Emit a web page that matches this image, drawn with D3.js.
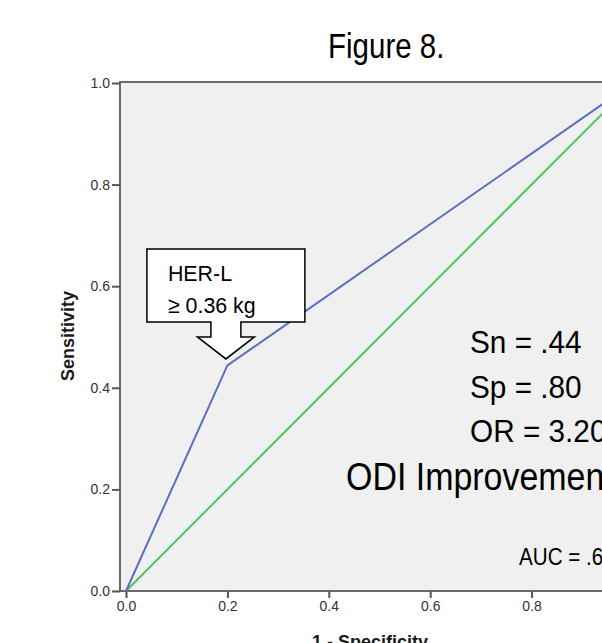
<!DOCTYPE html>
<html>
<head>
<meta charset="utf-8">
<script src="https://cdn.jsdelivr.net/npm/d3@7"></script>
<style>
  html, body { margin: 0; padding: 0; background: #fff; overflow: hidden; }
  svg { display: block; font-family: "Liberation Sans", Arial, sans-serif; }
  .axis path { display: none; }
  .axis line { stroke: #555; stroke-width: 2; }
  .axis text { fill: #333; font-size: 14px; }
</style>
</head>
<body>
<div id="chart"></div>
<script>
const WIDTH = 602
const HEIGHT = 643
const FRAME_COLOR = '#6b6b6b'
const PLOT_BG = '#f0f0f0'
const ROC_COLOR = '#5b6ec2'
const REF_COLOR = '#50c462'

// ROC curve points (1 - specificity, sensitivity)
const FPR = [0, 0.2, 1]
const TPR = [0, 0.444, 1]
// diagonal reference line
const REF_X = [0, 1]
const REF_Y = [0, 1]
const X_TICKS = [0, 0.2, 0.4, 0.6, 0.8, 1.0]
const Y_TICKS = [0, 0.2, 0.4, 0.6, 0.8, 1.0]
const TITLE = 'Figure 8.'
const X_TITLE = '1 - Specificity'
const Y_TITLE = 'Sensitivity'
const CUT_LABEL = ['HER-L', '≥ 0.36 kg']
const CUT_INDEX = 1
const STATS = ['Sn = .44', 'Sp = .80', 'OR = 3.20']
const OUTCOME = 'ODI Improvement'
const AUC_LABEL = 'AUC = .62'

var svg = d3.select('#chart').append('svg')
  .attr('width', WIDTH).attr('height', HEIGHT)

var x = d3.scaleLinear().domain([0, 1]).range([126, 633])
var y = d3.scaleLinear().domain([0, 1]).range([591, 83])
var frameLeft = x(0) - 6
var frameTop = y(1) - 1

// narrow text helper (the source figure uses a condensed face)
function narrowText(g, px, py, size, sx, str) {
  return g.append('text')
    .attr('transform', `translate(${px}, ${py}) scale(${sx}, 1)`)
    .attr('font-size', size)
    .attr('fill', '#000')
    .text(str)
}

// plot background + frame
svg.append('rect')
  .attr('x', frameLeft).attr('y', frameTop)
  .attr('width', WIDTH).attr('height', y(0) - frameTop)
  .attr('fill', PLOT_BG)

svg.append('path')
  .attr('d', `M${WIDTH + 10},${frameTop}H${frameLeft}V${y(0)}H${WIDTH + 10}`)
  .attr('fill', 'none')
  .attr('stroke', FRAME_COLOR)
  .attr('stroke-width', 2)

// axes
var xAxis = d3.axisBottom(x).tickValues(X_TICKS).tickSize(7).tickPadding(3).tickFormat(d3.format('.1f'))
svg.append('g').attr('class', 'axis')
  .attr('transform', `translate(0, ${y(0)})`)
  .call(xAxis)

var yAxis = d3.axisLeft(y).tickValues(Y_TICKS).tickSize(8).tickPadding(2).tickFormat(d3.format('.1f'))
svg.append('g').attr('class', 'axis')
  .attr('transform', `translate(${frameLeft}, 0)`)
  .call(yAxis)

// lines
var line = d3.line().x(d => x(d[0])).y(d => y(d[1]))

svg.append('path')
  .datum(d3.zip(REF_X, REF_Y))
  .attr('d', line)
  .attr('fill', 'none')
  .attr('stroke', REF_COLOR)
  .attr('stroke-width', 2)

svg.append('path')
  .datum(d3.zip(FPR, TPR))
  .attr('d', line)
  .attr('fill', 'none')
  .attr('stroke', ROC_COLOR)
  .attr('stroke-width', 2)

// titles
narrowText(svg, 328, 58, 36, 0.82, TITLE)

svg.append('text')
  .attr('x', 370).attr('y', 648)
  .attr('text-anchor', 'middle')
  .attr('font-size', 18).attr('font-weight', 'bold')
  .attr('fill', '#1a1a1a')
  .text(X_TITLE)

svg.append('text')
  .attr('transform', 'translate(74, 336) rotate(-90)')
  .attr('text-anchor', 'middle')
  .attr('font-size', 18).attr('font-weight', 'bold')
  .attr('fill', '#1a1a1a')
  .text(Y_TITLE)

// callout arrow pointing at the cut-off
var tx = x(FPR[CUT_INDEX]) - 1.5
var ty = y(TPR[CUT_INDEX]) - 6.5
var callout = d3.path()
callout.moveTo(tx - 79, ty - 110)
callout.lineTo(tx + 79, ty - 110)
callout.lineTo(tx + 79, ty - 37)
callout.lineTo(tx + 15, ty - 37)
callout.lineTo(tx + 15, ty - 22)
callout.lineTo(tx + 28.5, ty - 22)
callout.lineTo(tx, ty)
callout.lineTo(tx - 28.5, ty - 22)
callout.lineTo(tx - 15, ty - 22)
callout.lineTo(tx - 15, ty - 37)
callout.lineTo(tx - 79, ty - 37)
callout.closePath()

svg.append('path')
  .attr('d', callout.toString())
  .attr('fill', '#fff')
  .attr('stroke', '#000')
  .attr('stroke-width', 1.5)
  .attr('stroke-linejoin', 'miter')

CUT_LABEL.forEach((d, i) => narrowText(svg, tx - 58, ty - 78 + i * 32, 23, 0.93, d))

// stats text
STATS.forEach((d, i) => narrowText(svg, 470, 353 + i * 44.5, 32, 0.93, d))

narrowText(svg, 346, 490, 39, 0.87, OUTCOME)

narrowText(svg, 519, 565, 24, 0.86, AUC_LABEL)
</script>
</body>
</html>
